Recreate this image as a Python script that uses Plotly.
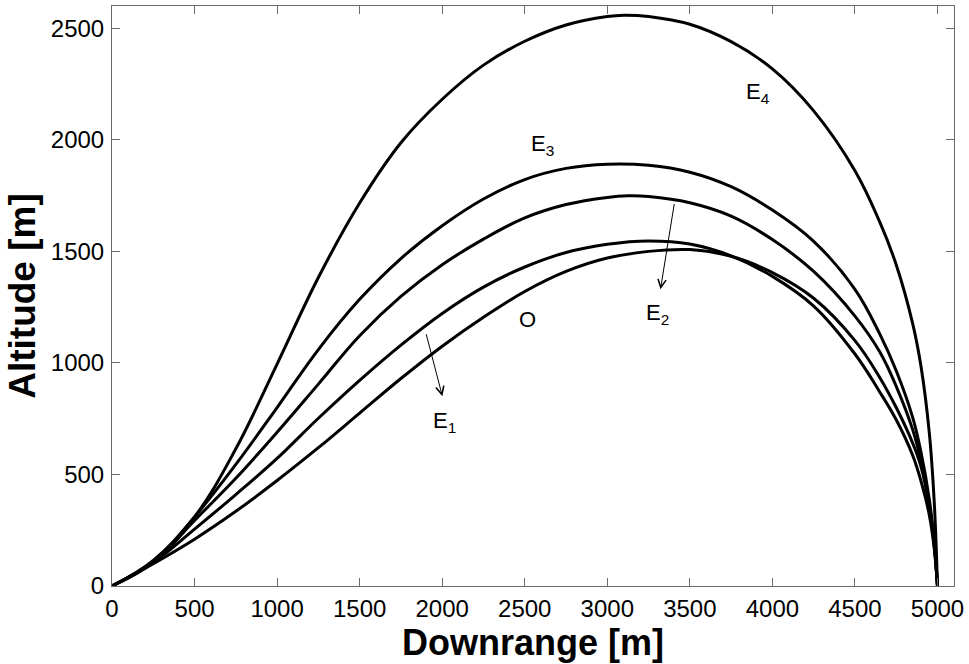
import plotly.graph_objects as go

# Trajectory altitude profiles: downrange [m] vs altitude [m]
e4_x = [0, 250, 500, 750, 1000, 1250, 1500, 1750, 2000, 2250, 2500, 2750, 3000, 3100, 3250,
        3500, 3750, 4000, 4250, 4500, 4650, 4750, 4850, 4900, 4950, 4980, 5000]
e4_y = [0, 115, 310, 615, 995, 1383, 1717, 1987, 2182, 2335, 2442, 2515, 2553, 2559, 2553,
        2518, 2440, 2318, 2130, 1862, 1632, 1440, 1175, 985, 690, 380, 0]

e3_x = [0, 250, 500, 750, 1000, 1250, 1500, 1750, 2000, 2250, 2500, 2750, 3000, 3250,
        3500, 3750, 4000, 4250, 4500, 4650, 4750, 4850, 4900, 4950, 4980, 5000]
e3_y = [0, 110, 310, 545, 800, 1060, 1285, 1468, 1615, 1735, 1822, 1872, 1891, 1886,
        1855, 1790, 1685, 1545, 1330, 1130, 965, 755, 600, 390, 200, 0]

e2_x = [0, 250, 500, 750, 1000, 1250, 1500, 1750, 2000, 2250, 2500, 2750, 3000, 3125, 3250,
        3500, 3750, 4000, 4250, 4500, 4650, 4750, 4850, 4900, 4950, 4980, 5000]
e2_y = [0, 105, 294, 483, 689, 905, 1122, 1298, 1440, 1555, 1650, 1710, 1742, 1749, 1746,
        1718, 1658, 1553, 1410, 1210, 1050, 895, 700, 560, 370, 190, 0]

e1_x = [0, 250, 500, 750, 1000, 1250, 1500, 1750, 2000, 2250, 2500, 2750, 3000, 3250,
        3500, 3750, 4000, 4250, 4500, 4650, 4750, 4850, 4900, 4950, 4980, 5000]
e1_y = [0, 105, 255, 410, 572, 752, 922, 1080, 1222, 1340, 1430, 1495, 1532, 1547,
        1533, 1480, 1388, 1255, 1040, 870, 745, 585, 470, 320, 170, 0]

o_x = [0, 250, 500, 750, 1000, 1250, 1500, 1750, 2000, 2250, 2500, 2750, 3000, 3250,
       3500, 3750, 4000, 4250, 4500, 4650, 4750, 4850, 4900, 4950, 4980, 5000]
o_y = [0, 100, 210, 335, 473, 620, 775, 930, 1075, 1205, 1320, 1410, 1470, 1500,
       1508, 1478, 1405, 1290, 1100, 935, 800, 640, 535, 355, 185, 0]

x_ticks = [0, 500, 1000, 1500, 2000, 2500, 3000, 3500, 4000, 4500, 5000]
y_ticks = [0, 500, 1000, 1500, 2000, 2500]

FONT = "Arial, Liberation Sans, Helvetica, sans-serif"
AXIS_GREY = "#6a6a6a"

fig = go.Figure()
for xs, ys in [(e4_x, e4_y), (e3_x, e3_y), (e2_x, e2_y), (e1_x, e1_y), (o_x, o_y)]:
    fig.add_trace(go.Scatter(
        x=xs, y=ys, mode="lines",
        line=dict(color="black", width=3, shape="spline", smoothing=1.1),
        showlegend=False, hoverinfo="skip",
    ))

# Curve labels
labels = [
    ("E<sub>4</sub>", 3825, 2210, "left"),
    ("E<sub>3</sub>", 2526, 1978, "left"),
    ("E<sub>2</sub>", 3221, 1219, "left"),
    ("E<sub>1</sub>", 1931, 736, "left"),
    ("O", 2519, 1193, "center"),
]
for text, lx, ly, anchor in labels:
    fig.add_annotation(x=lx, y=ly, text=text, showarrow=False,
                       xanchor=anchor, yanchor="middle",
                       font=dict(family=FONT, size=22, color="black"))

# Pointer arrows (head at x/y, tail at ax/ay)
arrows = [
    (2001, 851, 1901, 1135),
    (3322, 1330, 3407, 1719),
]
for hx, hy, tx, ty in arrows:
    fig.add_annotation(x=hx, y=hy, ax=tx, ay=ty, xref="x", yref="y",
                       axref="x", ayref="y", text="", showarrow=True,
                       arrowhead=5, arrowsize=1.6, arrowwidth=1,
                       arrowcolor="black")

axis_common = dict(
    showline=True, linecolor=AXIS_GREY, linewidth=1, mirror="ticks",
    ticks="inside", ticklen=8, tickwidth=1, tickcolor=AXIS_GREY,
    showgrid=False, zeroline=False,
    tickfont=dict(family=FONT, size=24, color="black"),
)

fig.update_layout(
    width=969, height=664,
    margin=dict(l=112, r=13, t=5, b=78),
    paper_bgcolor="white", plot_bgcolor="white",
    xaxis=dict(range=[0, 5100], tickvals=x_ticks, ticktext=[str(v) for v in x_ticks],
               title=dict(text="<b>Downrange [m]</b>", standoff=2,
                          font=dict(family=FONT, size=36, color="black")),
               ticklabelstandoff=1, **axis_common),
    yaxis=dict(range=[0, 2600], tickvals=y_ticks, ticktext=[str(v) for v in y_ticks],
               title=dict(text="<b>Altitude [m]</b>", standoff=3,
                          font=dict(family=FONT, size=37, color="black")),
               ticklabelstandoff=2, **axis_common),
)

fig.write_html("out.html")
